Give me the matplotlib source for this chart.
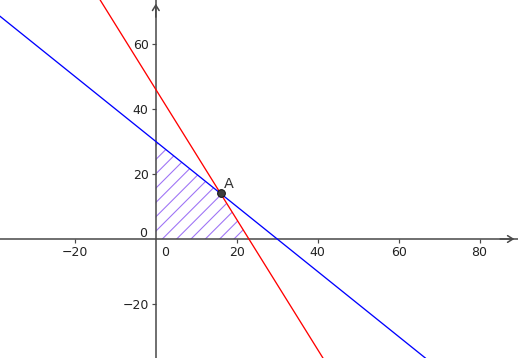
import numpy as np
import matplotlib.pyplot as plt

# the two constraint lines: y = intercept + slope * x
blue_line = (30, -1)
red_line = (46, -2)

# feasible region (hatched) and the corner point A
region_x = [0, 0, 16, 23]
region_y = [0, 30, 14, 0]
point_a = (16, 14)

x_ticks = [-20, 20, 40, 60, 80]
y_ticks = [-20, 20, 40, 60]

x_range = (-38.5, 89.5)
y_range = (-36.6, 73.5)

axis_col = '#4a4a4a'
dpi = 86
plt.rcParams['hatch.linewidth'] = 0.9
fig = plt.figure(figsize=(518 / dpi, 358 / dpi), dpi=dpi)
ax = fig.add_axes([0, 0, 1, 1])
ax.set_xlim(*x_range)
ax.set_ylim(*y_range)

# hatched region (hatch takes the edge colour, edge itself has zero width)
ax.fill(region_x, region_y, facecolor='none', edgecolor='#9d73f5', lw=0, hatch='//', zorder=1)

# lines
ax.axline((0, blue_line[0]), slope=blue_line[1], color='#0000ff', lw=1.1, zorder=3)
ax.axline((0, red_line[0]), slope=red_line[1], color='#ff0000', lw=1.1, zorder=3)

# axes through the origin
for s in ['top', 'right']:
    ax.spines[s].set_visible(False)
ax.spines['left'].set_position(('data', 0))
ax.spines['bottom'].set_position(('data', 0))
for s in ['left', 'bottom']:
    ax.spines[s].set_color(axis_col)
    ax.spines[s].set_linewidth(1.3)
    ax.spines[s].set_zorder(2)

ax.set_xticks(x_ticks)
ax.set_yticks(y_ticks)
ax.set_xticklabels([str(t).replace('-', '\u2212') for t in x_ticks])
ax.set_yticklabels([str(t).replace('-', '\u2212') for t in y_ticks])
ax.tick_params(direction='out', length=3, width=1, color=axis_col,
               labelsize=10.5, labelcolor='#222222', pad=3)

# arrow heads at the ends of the axes
arr = dict(arrowstyle='->,head_length=0.45,head_width=0.28', color=axis_col, lw=1.3)
ax.annotate('', xy=(x_range[1] - 0.3, 0), xytext=(x_range[1] - 5, 0), arrowprops=arr)
ax.annotate('', xy=(0, y_range[1] - 0.4), xytext=(0, y_range[1] - 6), arrowprops=arr)

# zero labels
ax.annotate('0', xy=(0, 0), xytext=(8, -11), textcoords='offset points',
            ha='center', va='center', fontsize=10.5, color='#222222')
ax.annotate('0', xy=(0, 0), xytext=(-11, 5), textcoords='offset points',
            ha='center', va='center', fontsize=10.5, color='#222222')

# point A
ax.plot(*point_a, 'o', ms=6.5, mfc='#3d3d3d', mec='#111111', mew=0.8, zorder=5)
ax.annotate('A', xy=point_a, xytext=(7, 8), textcoords='offset points',
            ha='center', va='center', fontsize=12, color='#333333')

fig.savefig('out.png', dpi=dpi)
